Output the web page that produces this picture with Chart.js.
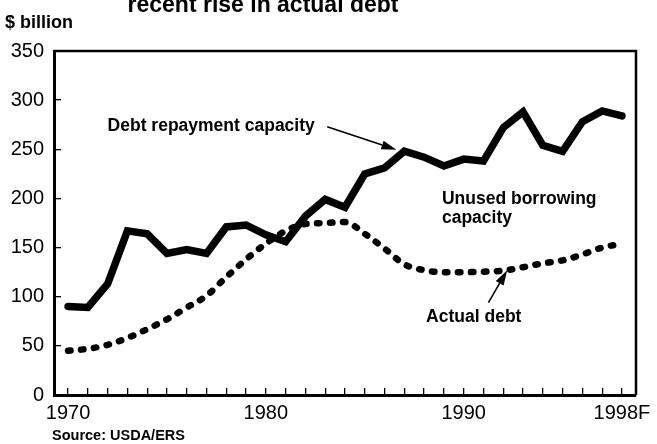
<!DOCTYPE html>
<html>
<head>
<meta charset="utf-8">
<script src="https://cdn.jsdelivr.net/npm/chart.js@4"></script>
<style>
  body { margin: 0; background: #fff; }
  #wrap { width: 657px; height: 444px; }
</style>
</head>
<body>
<div id="wrap"><canvas id="myChart" width="657" height="444"></canvas></div>
<script>
var years = [1970,1971,1972,1973,1974,1975,1976,1977,1978,1979,1980,1981,1982,1983,1984,
             1985,1986,1987,1988,1989,1990,1991,1992,1993,1994,1995,1996,1997,1998]
var repayCapacity = [90,89,113,167,164,144,148,144,171,173,163,156,182,199,191,
                     225,231,248,242,233,240,238,272,288,254,248,278,289,284]
var actualDebt = [45,47,51,58,67,77,89,101,120,138,154,167,174,175,176,
                  164,149,133,127,125,125,125.5,126.5,130,134,137,143,150,154]
var xLabels = {1970: "1970", 1980: "1980", 1990: "1990", 1998: "1998F"}

var FONT = "'Liberation Sans', Arial, Helvetica, sans-serif"

// notes in data units (x = year, y = $ billion)
var notes = [
  {text: "Debt repayment capacity", x: 1972.0, y: 274},
  {text: "Unused borrowing", x: 1988.9, y: 199.5},
  {text: "capacity", x: 1988.9, y: 180},
  {text: "Actual debt", x: 1988.1, y: 79}
]
var arrows = [
  {from: [1983.1, 273], to: [1986.6, 249.5]},
  {from: [1991.25, 94], to: [1992.2, 127]}
]

function pts(vals) {
  return years.map(function(y, i) { return {x: y, y: vals[i]} })
}

var extras = {
  id: 'extras',
  afterDatasetsDraw: function(chart) {
    var ctx = chart.ctx, xs = chart.scales.x, ys = chart.scales.y, a = chart.chartArea
    ctx.save()
    ctx.strokeStyle = '#000'
    ctx.lineWidth = 2.5
    ctx.beginPath()
    ctx.moveTo(a.left, a.top)
    ctx.lineTo(a.right, a.top)
    ctx.lineTo(a.right, a.bottom)
    ctx.stroke()

    ctx.fillStyle = '#000'
    ctx.textBaseline = 'middle'
    ctx.textAlign = 'left'
    ctx.font = 'bold 17.5px ' + FONT
    notes.forEach(function(n) {
      ctx.fillText(n.text, xs.getPixelForValue(n.x), ys.getPixelForValue(n.y))
    })

    arrows.forEach(function(ar) {
      var x1 = xs.getPixelForValue(ar.from[0]), y1 = ys.getPixelForValue(ar.from[1])
      var x2 = xs.getPixelForValue(ar.to[0]), y2 = ys.getPixelForValue(ar.to[1])
      var ang = Math.atan2(y2 - y1, x2 - x1)
      var hl = 15, hw = 4.5
      var bx = x2 - hl * Math.cos(ang), by = y2 - hl * Math.sin(ang)
      ctx.lineWidth = 1.6
      ctx.beginPath()
      ctx.moveTo(x1, y1)
      ctx.lineTo(bx, by)
      ctx.stroke()
      ctx.beginPath()
      ctx.moveTo(x2, y2)
      ctx.lineTo(bx + hw * Math.sin(ang), by - hw * Math.cos(ang))
      ctx.lineTo(bx - hw * Math.sin(ang), by + hw * Math.cos(ang))
      ctx.closePath()
      ctx.fill()
    })

    // title (cut off at the top in the source) and captions
    ctx.textBaseline = 'alphabetic'
    ctx.textAlign = 'center'
    ctx.font = 'bold 23px ' + FONT
    ctx.fillText("recent rise in actual debt", 263, 12)
    ctx.textAlign = 'left'
    ctx.font = 'bold 18px ' + FONT
    ctx.fillText("$ billion", 5, 28)
    ctx.font = 'bold 14.5px ' + FONT
    ctx.fillText("Source: USDA/ERS", 52, 440)
    ctx.restore()
  }
}

new Chart(document.getElementById('myChart'), {
  type: 'line',
  data: {
    datasets: [{
      label: "Debt repayment capacity",
      data: pts(repayCapacity),
      borderColor: '#000',
      borderWidth: 7.5,
      borderCapStyle: 'round',
      pointRadius: 0,
      tension: 0,
      fill: false
    }, {
      label: "Actual debt",
      data: pts(actualDebt),
      borderColor: '#000',
      borderWidth: 6.5,
      borderDash: [2.5, 10.5],
      borderCapStyle: 'round',
      pointRadius: 0,
      cubicInterpolationMode: 'monotone',
      fill: false
    }]
  },
  options: {
    responsive: false,
    animation: false,
    events: [],
    layout: { padding: { left: 0, right: 21, top: 51, bottom: 0 } },
    plugins: { legend: { display: false }, tooltip: { enabled: false } },
    scales: {
      x: {
        type: 'linear',
        min: 1969.29,
        max: 1998.71,
        afterFit: function(s) { s.height = 49; s.paddingLeft = 0; s.paddingRight = 0 },
        afterBuildTicks: function(s) { s.ticks = years.map(function(v) { return {value: v} }) },
        border: { display: true, color: '#000', width: 3 },
        grid: { drawOnChartArea: false, drawTicks: true, tickLength: -7, color: '#000', lineWidth: 1.3 },
        ticks: {
          autoSkip: false,
          maxRotation: 0,
          padding: 13,
          color: '#000',
          font: { family: FONT, size: 20 },
          callback: function(v) { return xLabels[v] || '' }
        }
      },
      y: {
        min: 0,
        max: 350,
        afterFit: function(s) { s.width = 54; s.paddingTop = 0; s.paddingBottom = 0 },
        border: { display: true, color: '#000', width: 3 },
        grid: { drawOnChartArea: false, drawTicks: true, tickLength: -7, color: '#000', lineWidth: 1.3 },
        ticks: {
          stepSize: 25,
          padding: 17,
          color: '#000',
          font: { family: FONT, size: 20 },
          callback: function(v) { return v % 50 === 0 ? v : '' }
        }
      }
    }
  },
  plugins: [extras]
})
</script>
</body>
</html>
